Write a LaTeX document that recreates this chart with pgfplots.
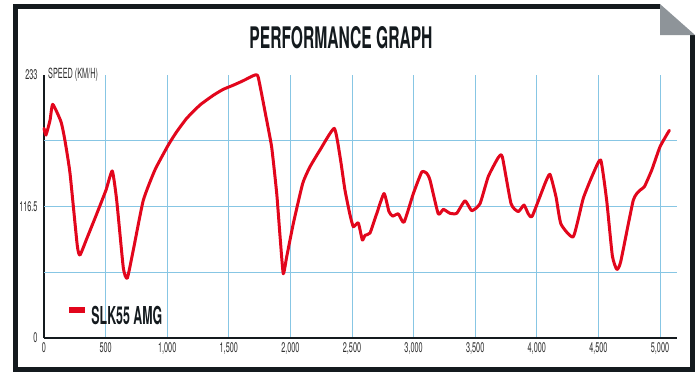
\documentclass[border=0pt]{standalone}
\usepackage{fontspec}
\usepackage{graphicx}
\usepackage{pgfplots}
\pgfplotsset{compat=1.18}
\newfontfamily\tickfont[FakeStretch=0.52]{TeX Gyre Heros}
\newfontfamily\headfont{TeX Gyre Heros}
\definecolor{slkred}{RGB}{226,6,28}
\definecolor{gridblue}{RGB}{135,198,228}
\definecolor{framedark}{RGB}{20,26,30}
\definecolor{foldgrey}{RGB}{142,148,153}
\definecolor{ticktext}{RGB}{45,45,45}
\begin{document}
\begin{tikzpicture}
\begin{scope}[x=1pt,y=-1pt]
\path[use as bounding box] (0,0) rectangle (700,375);
\draw[framedark, line width=5.3pt] (660,6.7) -- (15.3,6.7) -- (15.3,369.2) -- (692.3,369.2) -- (692.3,35);
\fill[foldgrey] (660,4) -- (660,35) -- (695,35) -- cycle;
\node[inner sep=0pt, text=framedark] at (341,38) {\resizebox{183pt}{22pt}{\headfont\bfseries PERFORMANCE GRAPH}};
\end{scope}
\begin{axis}[
  at={(44pt,-338pt)}, anchor=south west,
  scale only axis, width=633pt, height=263pt,
  xmin=0, xmax=5138, ymin=0, ymax=233,
  axis x line*=bottom, axis y line*=left,
  axis line style={-, line width=1.3pt, framedark},
  xtick={0,500,...,5000},
  ytick={0,116.5,233},
  scaled x ticks=false, scaled y ticks=false,
  /pgf/number format/.cd, 1000 sep={,}, assume math mode=true, /pgfplots/.cd,
  major tick length=0pt,
  tick label style={font=\tickfont\fontsize{14}{14}\selectfont, text=ticktext},
  xticklabel style={yshift=-1pt},
  yticklabel style={xshift=-3pt},
  xmajorgrids,
  extra y ticks={58.25,116.5,174.75},
  extra y tick labels={},
  extra y tick style={ymajorgrids},
  grid style={gridblue, line width=0.9pt},
  clip=false,
  legend style={at={(0.039,0.084)}, anchor=west, draw=none, fill=none, inner sep=0pt, column sep=6pt, nodes={inner sep=0pt}},
  legend image code/.code={\fill[slkred, draw=none] (0pt,2.6pt) rectangle (16.6pt,9.2pt);},
]
\addplot[slkred, line width=3pt, line join=round, line cap=round, smooth, tension=0.3] coordinates {
(0,185.7) (16,179.8) (49,193) (71,207) (138,191.6) (170,175) (211,146) (270,82) (292,73.5)
(347,88) (428,110) (503,131) (554,148) (590,122) (644,62) (676,53) (725,78) (806,122)
(901,149) (1009,171) (1077,182.7) (1158,194.6) (1266,206.4) (1374,215) (1455,220.3) (1537,224) (1618,228) (1672,231) (1713,233) (1739,231)
(1802,196) (1848,169) (1889,128) (1916,90) (1942,57) (1970,72) (2024,101.6) (2100,137)
(2159,151.7) (2240,166.5) (2356,185.7) (2403,160.6) (2443,131) (2484,109) (2511,98.6)
(2551,102) (2584,86.8) (2606,91) (2646,93) (2700,110) (2760,128) (2800,112) (2830,108)
(2876,110) (2922,102.5) (2998,128) (3066,147) (3106,146) (3133,140) (3200,110) (3241,114)
(3295,110.5) (3350,110.5) (3417,121.6) (3472,112.8) (3539,119) (3606,143) (3688,160)
(3720,160.6) (3791,119) (3850,112) (3896,117.8) (3931,110) (3963,108) (4067,137) (4107,145)
(4156,125) (4196,101) (4296,89.7) (4377,123.7) (4459,146) (4519,157.7) (4567,122) (4613,73)
(4649,60.8) (4681,67.6) (4783,122) (4838,131) (4873,134) (4933,148.8) (5000,169.4) (5076,184)
};
\addlegendentry{\resizebox{70.7pt}{18.3pt}{\headfont\bfseries\color{framedark}SLK55 AMG}}
\node[anchor=west, inner sep=0pt, font=\tickfont\fontsize{14}{14}\selectfont, text=ticktext] at (rel axis cs:0,1) [xshift=4pt] {SPEED (KM/H)};
\end{axis}
\end{tikzpicture}
\end{document}
